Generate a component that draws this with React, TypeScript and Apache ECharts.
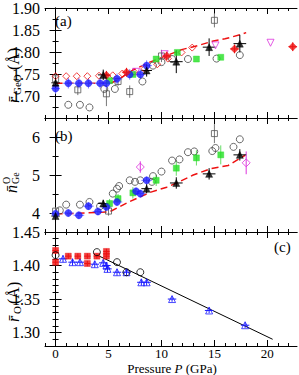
import React, { useEffect, useRef } from "react";
import * as echarts from "echarts";

const FONT = "'Liberation Serif', 'DejaVu Serif', 'Times New Roman', serif";

// ---------- axes ----------
const xMajor = [0, 5, 10, 15, 20];
const xMinor = [-1, 0, 1, 2, 3, 4, 5, 6, 7, 8, 9, 10, 11, 12, 13, 14, 15, 16, 17, 18, 19, 20, 21, 22];
const aMajor = [1.65, 1.7, 1.75, 1.8, 1.85, 1.9];
const aMinor = [1.675, 1.725, 1.775, 1.825, 1.875];
const aLabels = [1.7, 1.75, 1.8, 1.85, 1.9];
const bMajor = [4, 5, 6];
const bMinor = [3.5, 4.5, 5.5, 6.5];
const bLabels = [4, 5, 6];
const cMajor = [1.3, 1.35, 1.4, 1.45];
const cMinor = [1.29, 1.31, 1.32, 1.33, 1.34, 1.36, 1.37, 1.38, 1.39, 1.41, 1.42, 1.43, 1.44];
const cLabels = [1.3, 1.35, 1.4, 1.45];

// ---------- panel (a): mean Ge-O distance, [P, value, errP, errValue] ----------
const aOpenSquares = [[0, 1.739, 0, 0.012], [2.1, 1.714, 0, 0.012], [4.8, 1.705, 0, 0.028], [5.9, 1.733, 0, 0.01], [7.0, 1.71, 0, 0.014], [10.0, 1.791, 0, 0.014], [15.0, 1.872, 0, 0.016]];
const aOpenCircles = [[1.2, 1.68], [2.3, 1.68], [3.2, 1.674], [4.6, 1.716], [5.6, 1.716], [8.2, 1.733], [9.2, 1.769], [10.0, 1.777], [11.0, 1.784], [12.5, 1.784], [15.2, 1.785], [17.4, 1.793]];
const aRedOpen = [[0, 1.745], [1, 1.745], [2, 1.745], [3, 1.745], [4.1, 1.746], [5.4, 1.747], [6.3, 1.751], [7.4, 1.755], [8.4, 1.762], [9.6, 1.772], [10.6, 1.785], [11.9, 1.799], [12.9, 1.81]];
const aMagenta = [[7.6, 1.755], [10.3, 1.795], [15.1, 1.815], [20.3, 1.821]];
const aGreen = [[5.1, 1.735], [7.3, 1.749], [9.5, 1.784], [11.5, 1.799], [13.3, 1.784], [15.6, 1.788]];
const aBlue = [[0, 1.717, 0.4, 0.012], [1.2, 1.729, 0.5, 0.012], [2.2, 1.729, 0.5, 0.012], [3.1, 1.729, 0.5, 0.012], [4.2, 1.729, 0.5, 0.012], [4.8, 1.729, 0.5, 0.012], [5.8, 1.739, 0.5, 0.012], [7.0, 1.749, 0.5, 0.012], [8.0, 1.749, 0.5, 0.012], [8.6, 1.769, 0.5, 0.012]];
const aRedFilled = [[4.8, 1.747, 0.4, 0.01], [6.7, 1.754, 0.4, 0.01], [10.5, 1.791, 0.4, 0.01], [16.9, 1.807, 0.4, 0.01], [22.4, 1.812, 0.4, 0.01]];
const aTriangles = [[0, 1.73, 0.4, 0.012], [4.5, 1.748, 0.5, 0.012], [8.6, 1.758, 0.5, 0.014], [11.4, 1.778, 0.6, 0.026], [14.5, 1.811, 0.6, 0.02], [17.4, 1.819, 0.6, 0.02]];
const aDashed = [[0, 1.729], [2, 1.729], [5.2, 1.729], [6, 1.738], [7.3, 1.759], [8.9, 1.777], [10.5, 1.792], [12, 1.806], [13.5, 1.815], [14.9, 1.825], [16, 1.83], [17.4, 1.839], [18, 1.844]];

// ---------- panel (b): coordination number ----------
const bOpenSquares = [[0, 4.05, 0, 0.1], [5.0, 4.05, 0, 0.12], [15.0, 6.09, 0, 0.25]];
const bOpenCircles = [[0.4, 4.07], [1, 4.22], [2.3, 4.22], [3.2, 4.29], [4.2, 4.18], [5.4, 4.51], [5.8, 4.64], [6, 4.71], [7, 4.86], [7.5, 4.82], [8, 4.86], [9.1, 4.82], [9.2, 4.97], [10, 5.09], [11, 5.38], [11.7, 5.41], [12.5, 5.6], [13.1, 5.62], [14.8, 5.63], [15.1, 5.71], [16.8, 5.74], [17.4, 5.94]];
const bMagenta = [[8, 5.21, 0, 0.15], [18, 5.32, 0, 0.3]];
const bGreen = [[5.1, 4.25, 0, 0.12], [5.9, 4.38, 0, 0.12], [7.3, 4.53, 0, 0.15], [9.5, 4.86, 0, 0.15], [11.4, 5.18, 0, 0.2], [13.3, 5.45, 0, 0.2], [15.6, 5.53, 0, 0.25]];
const bBlue = [[0, 3.98, 0.4, 0.1], [1.2, 4.0, 0.5, 0.1], [2.2, 3.94, 0.5, 0.1], [3.1, 4.18, 0.5, 0.1], [4.0, 4.04, 0.5, 0.1], [4.8, 4.16, 0.5, 0.1], [5.8, 4.29, 0.5, 0.1], [7.6, 4.57, 0.5, 0.1], [8.0, 4.51, 0.5, 0.1], [8.6, 4.86, 0.5, 0.1]];
const bTriangles = [[0, 3.92, 0.4, 0.1], [4.5, 4.25, 0.5, 0.1], [8.6, 4.64, 0.5, 0.12], [11.4, 4.79, 0.6, 0.15], [14.5, 5.03, 0.6, 0.15], [17.4, 5.53, 0.6, 0.15]];
const bDashed = [[0, 3.98], [2, 3.99], [5, 4.03], [5.3, 4.06], [7, 4.3], [9, 4.55], [10.5, 4.68], [11.5, 4.8], [13, 5.0], [14.7, 5.17], [16.3, 5.25], [17.9, 5.52]];

// ---------- panel (c): mean O distance ----------
const cBlueTriangles = [[0.7, 1.41, 0.4, 0.005], [1.6, 1.405, 0.4, 0.005], [2.3, 1.405, 0.4, 0.005], [3.7, 1.402, 0.4, 0.005], [4.5, 1.404, 0.4, 0.005], [4.8, 1.4, 0.4, 0.005], [4.9, 1.395, 0.4, 0.005], [5.8, 1.39, 0.4, 0.005], [6.7, 1.39, 0.4, 0.005], [8.1, 1.375, 0.4, 0.005], [8.6, 1.375, 0.4, 0.005], [11, 1.35, 0.4, 0.004], [14.5, 1.333, 0.4, 0.004], [17.9, 1.311, 0.4, 0.004]];
const cRedSquares = [[0, 1.4225, 0.3, 0.005], [0, 1.405, 0.3, 0.005], [1.2, 1.414, 0.3, 0.004], [2.1, 1.414, 0.3, 0.004], [3.0, 1.414, 0.3, 0.004], [3.0, 1.403, 0.3, 0.004], [3.9, 1.414, 0.3, 0.004], [4.8, 1.421, 0.3, 0.004], [4.8, 1.414, 0.3, 0.004]];
const cBlackOpen = [[0, 1.4155], [3.9, 1.42], [5.8, 1.405], [6.7, 1.39], [8.0, 1.39]];
const cFit = [[4, 1.415], [20.5, 1.29]];

const BLUE = "#1a1aff";
const RED = "#ee1111";
const GREEN = "#22e022";
const MAGENTA = "#dd33dd";

function makeXAxes(g: number, labels: boolean) {
  const base = { type: "value", gridIndex: g, min: -1, max: 22.8, splitLine: { show: false } };
  const line = { show: true, lineStyle: { color: "#000", width: 1 } };
  return [
    { ...base, position: "bottom", axisLine: line,
      axisTick: { show: true, inside: true, length: 6, customValues: xMajor, lineStyle: { color: "#000" } },
      axisLabel: { show: labels, customValues: xMajor, margin: 1, fontSize: 13, color: "#000", fontFamily: FONT } },
    { ...base, position: "bottom", axisLine: { show: false },
      axisTick: { show: true, inside: true, length: 3, customValues: xMinor, lineStyle: { color: "#000" } },
      axisLabel: { show: false } },
    { ...base, position: "top", axisLine: line,
      axisTick: { show: true, inside: true, length: 6, customValues: xMajor, lineStyle: { color: "#000" } },
      axisLabel: { show: false } },
    { ...base, position: "top", axisLine: { show: false },
      axisTick: { show: true, inside: true, length: 3, customValues: xMinor, lineStyle: { color: "#000" } },
      axisLabel: { show: false } },
  ];
}

function makeYAxes(g: number, min: number, max: number, major: number[], minor: number[], labels: number[], dec: number) {
  const base = { type: "value", gridIndex: g, min, max, splitLine: { show: false } };
  const line = { show: true, lineStyle: { color: "#000", width: 1 } };
  return [
    { ...base, position: "left", axisLine: line,
      axisTick: { show: true, inside: true, length: 6, customValues: major, lineStyle: { color: "#000" } },
      axisLabel: { show: true, customValues: labels, margin: 5, fontSize: 16, color: "#000", fontFamily: FONT,
        formatter: (v: number) => v.toFixed(dec) } },
    { ...base, position: "left", axisLine: { show: false },
      axisTick: { show: true, inside: true, length: 3, customValues: minor, lineStyle: { color: "#000" } },
      axisLabel: { show: false } },
    { ...base, position: "right", axisLine: line,
      axisTick: { show: true, inside: true, length: 6, customValues: major, lineStyle: { color: "#000" } },
      axisLabel: { show: false } },
    { ...base, position: "right", axisLine: { show: false },
      axisTick: { show: true, inside: true, length: 3, customValues: minor, lineStyle: { color: "#000" } },
      axisLabel: { show: false } },
  ];
}

function errSeries(g: number, data: number[][], color: string) {
  return {
    type: "custom",
    xAxisIndex: 4 * g,
    yAxisIndex: 4 * g,
    z: 2,
    silent: true,
    data,
    encode: { x: 0, y: 1 },
    renderItem: (params: any, api: any) => {
      const x = api.value(0), y = api.value(1), ex = api.value(2), ey = api.value(3);
      const children: any[] = [];
      if (ey > 0) {
        const p1 = api.coord([x, y - ey]);
        const p2 = api.coord([x, y + ey]);
        children.push({ type: "line", shape: { x1: p1[0], y1: p1[1], x2: p2[0], y2: p2[1] }, style: { stroke: color, lineWidth: 1 } });
      }
      if (ex > 0) {
        const p1 = api.coord([x - ex, y]);
        const p2 = api.coord([x + ex, y]);
        children.push({ type: "line", shape: { x1: p1[0], y1: p1[1], x2: p2[0], y2: p2[1] }, style: { stroke: color, lineWidth: 1 } });
      }
      return { type: "group", children };
    },
  };
}

function scatter(g: number, data: number[][], symbol: string, size: number, color: string, open: boolean, rotate = 0) {
  return {
    type: "scatter",
    xAxisIndex: 4 * g,
    yAxisIndex: 4 * g,
    z: 3,
    symbol,
    symbolSize: size,
    symbolRotate: rotate,
    data: data.map((d) => [d[0], d[1]]),
    itemStyle: open
      ? { color: "rgba(255,255,255,0)", borderColor: color, borderWidth: 1 }
      : { color, borderColor: color, borderWidth: 0.5 },
  };
}

function line(g: number, data: number[][], color: string, dashed: boolean, width: number) {
  return {
    type: "line",
    xAxisIndex: 4 * g,
    yAxisIndex: 4 * g,
    z: 1,
    showSymbol: false,
    symbol: "none",
    data,
    lineStyle: { color, width, type: dashed ? [7, 4] : "solid" },
  };
}

function vTitle(x: number, y: number, parts: { t: string; dx: number; dy: number; size: number; italic?: boolean }[]) {
  return {
    type: "group",
    x,
    y,
    rotation: Math.PI / 2,
    children: parts.map((p) => ({
      type: "text",
      x: p.dx,
      y: p.dy,
      style: {
        text: p.t,
        font: `${p.italic ? "italic " : ""}${p.size}px ${FONT}`,
        fill: "#000",
        align: "left",
        verticalAlign: "middle",
        textAlign: "left",
        textVerticalAlign: "middle",
      },
    })),
  };
}

function label(x: number, y: number, t: string) {
  return {
    type: "text",
    x,
    y,
    z: 10,
    style: { text: t, font: `15px ${FONT}`, fill: "#000", align: "left", verticalAlign: "middle", textAlign: "left", textVerticalAlign: "middle" },
  };
}

export default function App() {
  const ref = useRef<HTMLDivElement>(null);
  useEffect(() => {
    if (!ref.current) return;
    const chart = echarts.init(ref.current, undefined, { renderer: "svg" });
    const grids = [
      { left: 45, top: 4, width: 252, height: 114 },
      { left: 45, top: 118, width: 252, height: 114 },
      { left: 45, top: 232, width: 252, height: 114 },
    ];
    const option: any = {
      animation: false,
      backgroundColor: "#fff",
      grid: grids,
      xAxis: [...makeXAxes(0, false), ...makeXAxes(1, false), ...makeXAxes(2, true)],
      yAxis: [
        ...makeYAxes(0, 1.65, 1.9, aMajor, aMinor, aLabels, 2),
        ...makeYAxes(1, 3.5, 6.5, bMajor, bMinor, bLabels, 0),
        ...makeYAxes(2, 1.28, 1.45, cMajor, cMinor, cLabels, 2),
      ],
      series: [
        // panel a
        line(0, aDashed, RED, true, 1.5),
        errSeries(0, aOpenSquares, "#777"),
        scatter(0, aOpenSquares, "rect", 6, "#555", true),
        scatter(0, aOpenCircles, "circle", 7, "#444", true),
        scatter(0, aRedOpen, "diamond", 7, RED, true),
        scatter(0, aMagenta, "triangle", 7, MAGENTA, true, 180),
        scatter(0, aGreen, "rect", 6, GREEN, false),
        errSeries(0, aBlue, "#8080ff"),
        scatter(0, aBlue, "circle", 7, BLUE, false),
        errSeries(0, aRedFilled, RED),
        scatter(0, aRedFilled, "diamond", 8, RED, false),
        errSeries(0, aTriangles, "#000"),
        scatter(0, aTriangles, "triangle", 7, "#000", false),
        // panel b
        line(1, bDashed, RED, true, 1.5),
        errSeries(1, bOpenSquares, "#777"),
        scatter(1, bOpenSquares, "rect", 6, "#555", true),
        scatter(1, bOpenCircles, "circle", 7, "#444", true),
        errSeries(1, bMagenta, MAGENTA),
        scatter(1, bMagenta, "diamond", 8, MAGENTA, true),
        errSeries(1, bGreen, "#66dd66"),
        scatter(1, bGreen, "rect", 6, GREEN, false),
        errSeries(1, bBlue, "#8080ff"),
        scatter(1, bBlue, "circle", 7, BLUE, false),
        errSeries(1, bTriangles, "#000"),
        scatter(1, bTriangles, "triangle", 7, "#000", false),
        // panel c
        line(2, cFit, "#000", false, 1),
        errSeries(2, cBlueTriangles, BLUE),
        scatter(2, cBlueTriangles, "triangle", 7, BLUE, true),
        errSeries(2, cRedSquares, RED),
        scatter(2, cRedSquares, "rect", 6, RED, false),
        scatter(2, cBlackOpen, "circle", 7, "#000", true),
      ],
      graphic: [
        vTitle(13, 103, [
          { t: "r\u0304", dx: 0, dy: 0, size: 16, italic: true },
          { t: "GeO", dx: 8, dy: 4, size: 11 },
          { t: "(\u00C5)", dx: 33, dy: 0, size: 16 },
        ]),
        vTitle(11, 193, [
          { t: "n\u0304", dx: 0, dy: 0, size: 16, italic: true },
          { t: "O", dx: 9, dy: -5, size: 10 },
          { t: "Ge", dx: 9, dy: 4, size: 10 },
        ]),
        vTitle(13, 322, [
          { t: "r\u0304", dx: 0, dy: 0, size: 16, italic: true },
          { t: "O", dx: 8, dy: 4, size: 11 },
          { t: "(\u00C5)", dx: 18, dy: 0, size: 16 },
        ]),
        label(55, 21, "(a)"),
        label(55, 136, "(b)"),
        label(274, 247, "(c)"),
        {
          type: "text",
          x: 172,
          y: 368.5,
          style: {
            text: "{n|Pressure }{i|P}{n| (GPa)}",
            align: "center",
            verticalAlign: "middle",
            textAlign: "center",
            textVerticalAlign: "middle",
            rich: {
              n: { fontSize: 13, fontFamily: FONT, fill: "#000", color: "#000" },
              i: { fontSize: 13, fontFamily: FONT, fontStyle: "italic", fill: "#000", color: "#000" },
            },
          },
        },
      ],
    };
    chart.setOption(option);
    return () => chart.dispose();
  }, []);
  return <div ref={ref} style={{ width: 299, height: 375, position: "absolute", left: 0, top: 0 }} />;
}
